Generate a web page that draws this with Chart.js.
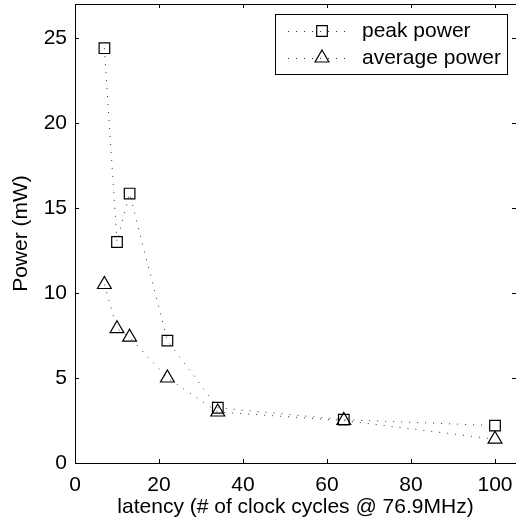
<!DOCTYPE html>
<html lang="en">
<head>
    <meta charset="UTF-8">
    <title>Power vs latency</title>
    <script src="https://cdn.jsdelivr.net/npm/chart.js"></script>
    <style>
        html, body { margin: 0; padding: 0; background: #fff; overflow: hidden; }
        #wrap { width: 516px; height: 526px; }
    </style>
</head>
<body>
    <div id="wrap"><canvas id="chart"></canvas></div>

    <script>
        // values
        var latency = [7, 10, 13, 22, 34, 64, 100];
        var peakPower = [24.4, 13.0, 15.85, 7.2, 3.25, 2.55, 2.2];
        var avgPower = [10.5, 7.9, 7.4, 5.0, 3.0, 2.5, 1.4];
        var seriesNames = ['peak power', 'average power'];
        var xTicks = [0, 20, 40, 60, 80, 100];
        var yTicks = [0, 5, 10, 15, 20, 25];
        var xTitle = 'latency (# of clock cycles @ 76.9MHz)';
        var yTitle = 'Power (mW)';

        var FONT = 'Liberation Sans, Arial, Helvetica, sans-serif';

        function toPoints(ys) {
            return latency.map(function(x, i) { return { x: x, y: ys[i] }; });
        }

        // tick labels must not push the plot area in
        function noEdgePadding(scale) {
            scale.paddingLeft = 0;
            scale.paddingRight = 0;
            scale.paddingTop = 0;
            scale.paddingBottom = 0;
        }

        // matlab style box: top border + inward ticks on all four sides
        var boxAxes = {
            id: 'boxAxes',
            afterDraw: function(chart) {
                var ctx = chart.ctx, a = chart.chartArea;
                var xs = chart.scales.x, ys = chart.scales.y;
                ctx.save();
                ctx.strokeStyle = '#000';
                ctx.lineWidth = 1;
                ctx.beginPath();
                ctx.moveTo(a.left, a.top + 0.5);
                ctx.lineTo(a.right, a.top + 0.5);
                xs.ticks.forEach(function(t) {
                    var px = Math.round(xs.getPixelForValue(t.value)) + 0.5;
                    ctx.moveTo(px, a.bottom);
                    ctx.lineTo(px, a.bottom - 4);
                    ctx.moveTo(px, a.top);
                    ctx.lineTo(px, a.top + 4);
                });
                ys.ticks.forEach(function(t) {
                    var py = Math.round(ys.getPixelForValue(t.value)) + 0.5;
                    ctx.moveTo(a.left, py);
                    ctx.lineTo(a.left + 4, py);
                    ctx.moveTo(a.right, py);
                    ctx.lineTo(a.right - 4, py);
                });
                ctx.stroke();
                ctx.restore();
            }
        };

        // legend box inside the axes, upper right
        var boxLegend = {
            id: 'boxLegend',
            afterDraw: function(chart) {
                var ctx = chart.ctx;
                var bx = 275, by = 14, bw = 232, bh = 60;
                ctx.save();
                ctx.fillStyle = '#fff';
                ctx.fillRect(bx, by, bw, bh);
                ctx.strokeStyle = '#000';
                ctx.lineWidth = 1;
                ctx.strokeRect(bx + 0.5, by + 0.5, bw, bh);

                chart.data.datasets.forEach(function(ds, i) {
                    var rowY = by + 17 + i * 26;
                    if (i === 1) rowY += 1;
                    ctx.save();
                    ctx.strokeStyle = ds.borderColor;
                    ctx.lineWidth = ds.borderWidth;
                    ctx.setLineDash(ds.borderDash);
                    ctx.beginPath();
                    ctx.moveTo(288, rowY + 0.5);
                    ctx.lineTo(350, rowY + 0.5);
                    ctx.stroke();
                    ctx.restore();

                    ctx.save();
                    ctx.strokeStyle = '#000';
                    ctx.fillStyle = 'rgba(0,0,0,0)';
                    ctx.lineWidth = ds.pointBorderWidth;
                    Chart.helpers.drawPoint(ctx, {
                        pointStyle: ds.pointStyle,
                        radius: ds.pointRadius,
                        rotation: 0,
                        borderWidth: ds.pointBorderWidth
                    }, 322, rowY);
                    ctx.restore();

                    ctx.fillStyle = '#000';
                    ctx.font = '21px ' + FONT;
                    ctx.textBaseline = 'middle';
                    ctx.textAlign = 'left';
                    ctx.fillText(ds.label, 362, rowY);
                });
                ctx.restore();
            }
        };

        var ctx = document.getElementById('chart').getContext('2d');
        var powerChart = new Chart(ctx, {
            type: 'line',
            data: {
                datasets: [
                    {
                        label: seriesNames[0],
                        data: toPoints(peakPower),
                        borderColor: '#333',
                        borderWidth: 1,
                        borderDash: [1, 7],
                        pointStyle: 'rect',
                        pointRadius: 7.5,
                        pointBorderWidth: 1.2,
                        pointBorderColor: '#000',
                        pointBackgroundColor: 'rgba(0,0,0,0)',
                        tension: 0
                    },
                    {
                        label: seriesNames[1],
                        data: toPoints(avgPower),
                        borderColor: '#333',
                        borderWidth: 1,
                        borderDash: [1, 7],
                        pointStyle: 'triangle',
                        pointRadius: 8,
                        pointBorderWidth: 1.2,
                        pointBorderColor: '#000',
                        pointBackgroundColor: 'rgba(0,0,0,0)',
                        tension: 0
                    }
                ]
            },
            options: {
                responsive: true,
                maintainAspectRatio: false,
                animation: false,
                layout: {
                    autoPadding: false,
                    padding: { top: 4, right: 0, left: 0, bottom: 0 }
                },
                plugins: {
                    legend: { display: false },
                    tooltip: { enabled: false }
                },
                scales: {
                    x: {
                        type: 'linear',
                        min: 0,
                        max: 105,
                        grid: { display: false, drawTicks: false },
                        border: { display: true, color: '#000', width: 1 },
                        ticks: {
                            padding: 10,
                            color: '#000',
                            maxRotation: 0,
                            autoSkip: false,
                            font: { family: FONT, size: 21 }
                        },
                        afterBuildTicks: function(scale) {
                            scale.ticks = xTicks.map(function(v) { return { value: v }; });
                        },
                        afterFit: function(scale) {
                            scale.height = 63;
                            noEdgePadding(scale);
                        },
                        title: {
                            display: true,
                            text: xTitle,
                            color: '#000',
                            padding: { top: 0, bottom: 6 },
                            font: { family: FONT, size: 21 }
                        }
                    },
                    y: {
                        min: 0,
                        max: 27,
                        grid: { display: false, drawTicks: false },
                        border: { display: true, color: '#000', width: 1 },
                        ticks: {
                            padding: 8,
                            color: '#000',
                            autoSkip: false,
                            font: { family: FONT, size: 21 }
                        },
                        afterBuildTicks: function(scale) {
                            scale.ticks = yTicks.map(function(v) { return { value: v }; });
                        },
                        afterFit: function(scale) {
                            scale.width = 75;
                            noEdgePadding(scale);
                        },
                        title: {
                            display: true,
                            text: yTitle,
                            color: '#000',
                            padding: { top: 9, bottom: 0 },
                            font: { family: FONT, size: 21 }
                        }
                    }
                }
            },
            plugins: [boxAxes, boxLegend]
        });
    </script>
</body>
</html>
